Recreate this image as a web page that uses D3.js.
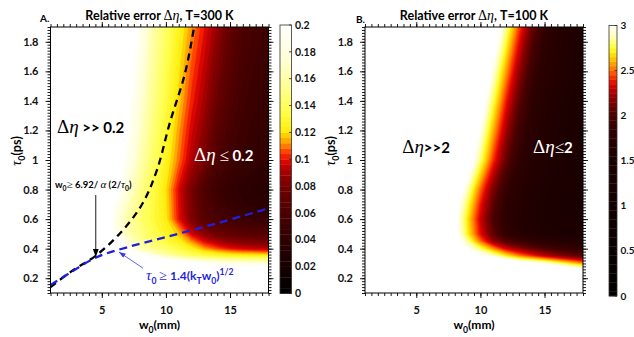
<!DOCTYPE html>
<html><head><meta charset="utf-8">
<script src="https://cdn.jsdelivr.net/npm/d3@7/dist/d3.min.js"></script>
<style>
html,body{margin:0;padding:0;background:#fff;}
svg text{font-family:Lato,"Open Sans","Liberation Sans",sans-serif;font-weight:700;white-space:pre;}
svg text .sf{font-family:"Liberation Serif","DejaVu Serif",serif;font-weight:400;}
svg text .it{font-style:italic;}
</style></head>
<body>
<svg id="chart" width="634" height="337"></svg>
<script>
// ---------- data ----------
const w0Cols = [1,2,3,4,5,6,7,8,9,10,11,12,13,14,15,16,17,18];
const tauRows = [0.1,0.2,0.25,0.3,0.35,0.4,0.45,0.5,0.6,0.7,0.8,1.0,1.2,1.4,1.6,1.9];
// relative error, T=300 K (rows follow tauRows, columns follow w0Cols)
const errA = [
 [.3,.3,.3,.3,.3,.3,.3,.3,.3,.3,.3,.3,.3,.3,.3,.3,.3,.3],
 [.3,.3,.3,.3,.3,.3,.3,.3,.3,.3,.3,.3,.3,.3,.3,.3,.3,.3],
 [.3,.3,.3,.3,.3,.3,.3,.3,.3,.3,.3,.28,.26,.245,.235,.228,.224,.22],
 [.3,.3,.3,.3,.3,.3,.3,.3,.27,.24,.22,.205,.195,.188,.184,.181,.179,.178],
 [.3,.3,.3,.3,.3,.3,.26,.21,.185,.165,.152,.143,.136,.131,.128,.126,.125,.124],
 [.3,.3,.3,.3,.3,.26,.19,.165,.152,.143,.134,.124,.113,.106,.1,.097,.095,.093],
 [.3,.3,.3,.3,.28,.23,.176,.156,.143,.133,.124,.111,.098,.09,.085,.082,.08,.078],
 [.3,.3,.3,.3,.26,.19,.165,.15,.138,.127,.117,.097,.085,.076,.071,.068,.066,.065],
 [.3,.3,.3,.28,.24,.185,.16,.145,.133,.122,.1,.082,.066,.058,.053,.049,.047,.045],
 [.3,.3,.3,.28,.245,.195,.168,.148,.134,.121,.099,.081,.063,.053,.046,.041,.038,.036],
 [.3,.3,.3,.3,.25,.215,.176,.152,.135,.12,.098,.08,.06,.05,.043,.038,.035,.033],
 [.3,.3,.3,.3,.26,.22,.19,.163,.142,.126,.109,.092,.08,.06,.052,.046,.042,.04],
 [.3,.3,.3,.3,.27,.23,.198,.17,.147,.13,.113,.097,.085,.068,.057,.05,.045,.042],
 [.3,.3,.3,.3,.28,.24,.205,.176,.151,.134,.118,.102,.09,.075,.062,.053,.049,.045],
 [.3,.3,.3,.3,.3,.25,.21,.182,.155,.137,.121,.106,.094,.08,.066,.056,.051,.047],
 [.3,.3,.3,.3,.3,.26,.22,.19,.16,.142,.126,.112,.1,.087,.072,.06,.055,.05]
];
// relative error, T=100 K
const errB = [
 [3.5,3.5,3.5,3.5,3.5,3.5,3.5,3.5,3.5,3.5,3.5,3.5,3.5,3.5,3.5,3.5,3.5,3.5],
 [3.5,3.5,3.5,3.5,3.5,3.5,3.5,3.5,3.5,3.5,3.5,3.5,3.5,3.5,3.5,3.5,3.5,3.5],
 [3.5,3.5,3.5,3.5,3.5,3.5,3.5,3.5,3.5,3.5,3.5,3.5,3.5,3.5,3.5,3.35,3.25,3.15],
 [3.5,3.5,3.5,3.5,3.5,3.5,3.5,3.5,3.5,3.5,3.5,3.3,3.15,3.05,2.95,2.82,2.68,2.55],
 [3.5,3.5,3.5,3.5,3.5,3.5,3.5,3.5,3.5,3.05,2.92,2.72,2.55,2.42,2.3,2.2,2.12,2.06],
 [3.5,3.5,3.5,3.5,3.5,3.5,3.5,3.3,3.0,2.8,2.55,2.33,2.2,2.08,2.0,1.94,1.88,1.84],
 [3.5,3.5,3.5,3.5,3.5,3.5,3.5,3.15,2.85,2.5,2.2,2.02,1.92,1.85,1.78,1.72,1.68,1.65],
 [3.5,3.5,3.5,3.5,3.5,3.5,3.4,3.08,2.72,2.36,2.06,1.85,1.72,1.63,1.56,1.52,1.49,1.47],
 [3.5,3.5,3.5,3.5,3.5,3.5,3.38,3.06,2.69,2.31,2.0,1.79,1.66,1.57,1.49,1.44,1.4,1.38],
 [3.5,3.5,3.5,3.5,3.5,3.5,3.44,3.13,2.77,2.38,2.05,1.82,1.68,1.58,1.5,1.45,1.41,1.38],
 [3.5,3.5,3.5,3.5,3.5,3.5,3.5,3.23,2.885,2.49,2.135,1.875,1.715,1.61,1.52,1.46,1.42,1.4],
 [3.5,3.5,3.5,3.5,3.5,3.5,3.5,3.47,3.16,2.81,2.42,2.08,1.84,1.69,1.6,1.52,1.46,1.42],
 [3.5,3.5,3.5,3.5,3.5,3.5,3.5,3.5,3.31,2.98,2.6,2.23,1.94,1.76,1.64,1.56,1.48,1.44],
 [3.5,3.5,3.5,3.5,3.5,3.5,3.5,3.5,3.45,3.14,2.78,2.39,2.06,1.82,1.68,1.58,1.5,1.46],
 [3.5,3.5,3.5,3.5,3.5,3.5,3.5,3.5,3.5,3.29,2.955,2.57,2.205,1.925,1.745,1.67,1.57,1.49],
 [3.5,3.5,3.5,3.5,3.5,3.5,3.5,3.5,3.5,3.5,3.2,2.85,2.45,2.1,1.85,1.7,1.6,1.5]
];
// boundary curves (panel A)
const limitBlackW   = [1.0, 2.6, 4.6, 6.65, 8.2, 9.3, 10.3, 11.5, 12.2];
const limitBlackTau = [0.14, 0.245, 0.357, 0.526, 0.709, 0.932, 1.25, 1.59, 1.9];
const limitBlueW    = [1.0, 2.5, 4.6, 7.0, 10.1, 14.0, 18.0];
const limitBlueTau  = [0.154, 0.235, 0.342, 0.41, 0.481, 0.572, 0.673];
// ticks
const xTicks = [5, 10, 15];
const yTicks = [0.2, 0.4, 0.6, 0.8, 1.0, 1.2, 1.4, 1.6, 1.8];
const cbTicksA = [0, 0.02, 0.04, 0.06, 0.08, 0.1, 0.12, 0.14, 0.16, 0.18, 0.2];
const cbTicksB = [0, 0.5, 1, 1.5, 2, 2.5, 3];

// ---------- styles ----------
const cmapA = d3.scaleLinear()
  .domain([0, 0.025, 0.045, 0.06, 0.075, 0.087, 0.097, 0.104, 0.11, 0.116, 0.122, 0.137, 0.155, 0.175, 0.2])
  .range(["#000000","#1c0000","#360000","#4c0000","#680000","#900000","#d00000","#ff2a00","#ff7a00","#ffc000","#ffee10","#ffff50","#ffff98","#ffffd8","#ffffff"])
  .clamp(true);
const cmapB = d3.scaleLinear()
  .domain([0, 0.5, 1.0, 1.5, 1.8, 2.0, 2.2, 2.35, 2.45, 2.55, 2.65, 2.75, 2.87, 3])
  .range(["#000000","#0a0000","#120000","#1c0000","#2c0000","#480000","#900000","#e00000","#ff4000","#ff9000","#ffd000","#ffff30","#ffffb0","#ffffff"])
  .clamp(true);

const svg = d3.select("#chart");
const defs = svg.append("defs");
const Y0 = 293, Y1 = 27;

function rich(g, x, y, parts, o) {
  const size = o.size;
  const t = g.append("text").attr("x", x).attr("y", y).attr("font-size", size).attr("fill", o.fill || "#000");
  if (o.anchor) t.attr("text-anchor", o.anchor);
  if (o.rotate) t.attr("transform", `rotate(-90,${x},${y})`);
  let shift = 0;
  parts.forEach(p => {
    const want = p.sub ? size * 0.3 : (p.sup ? -size * 0.42 : 0);
    const s = t.append("tspan").text(p.t);
    if (want !== shift) { s.attr("dy", want - shift); shift = want; }
    if (p.sub || p.sup) s.attr("font-size", size * 0.72);
    else if (p.size) s.attr("font-size", p.size);
    const cls = [];
    if (p.serif) cls.push("sf");
    if (p.it) cls.push("it");
    if (cls.length) s.attr("class", cls.join(" "));
  });
  return t;
}

function panel(o) {
  const x = d3.scaleLinear().domain([1, 18]).range(o.xr);
  const y = d3.scaleLinear().domain([0.1, 1.9]).range([Y0, Y1]);
  const clipId = "clip" + o.id;
  defs.append("clipPath").attr("id", clipId).append("rect")
    .attr("x", o.xr[0]).attr("y", Y1).attr("width", o.xr[1] - o.xr[0]).attr("height", Y0 - Y1);
  const g = svg.append("g");

  // heat map via filled contours
  const n = w0Cols.length, m = tauRows.length;
  const thr = d3.range(0, o.max, o.step); thr.push(o.max);
  const fill = t => t >= o.max - 1e-9 ? "#ffffff" : o.cmap(t + o.step / 2);
  const cont = d3.contours().size([n, m]).thresholds(thr)(o.values.flat());
  const wIdx = d3.scaleLinear().domain(w0Cols.map((d, i) => i + 0.5)).range(w0Cols);
  const tIdx = d3.scaleLinear().domain(tauRows.map((d, i) => i + 0.5)).range(tauRows);
  const proj = d3.geoTransform({ point(px, py) { this.stream.point(x(wIdx(px)), y(tIdx(py))); } });
  const path = d3.geoPath(proj);
  g.append("g").attr("clip-path", `url(#${clipId})`)
    .selectAll("path").data(cont).join("path")
    .attr("d", path).attr("fill", d => fill(d.value))
    .attr("stroke", d => fill(d.value)).attr("stroke-width", 0.4);

  // colorbar
  const cy = d3.scaleLinear().domain([0, o.max]).range([o.cb.y0, o.cb.y1]);
  const cbg = svg.append("g");
  cbg.selectAll("rect.band").data(thr.slice(0, -1)).join("rect").attr("class", "band")
    .attr("x", o.cb.x).attr("width", o.cb.w)
    .attr("y", d => cy(Math.min(d + o.step, o.max)))
    .attr("height", d => cy(d) - cy(Math.min(d + o.step, o.max)) + 0.3)
    .attr("fill", d => fill(d));
  cbg.append("rect").attr("x", o.cb.x).attr("y", o.cb.y1).attr("width", o.cb.w).attr("height", o.cb.y0 - o.cb.y1)
    .attr("fill", "none").attr("stroke", "#333").attr("stroke-width", 0.8);
  cbg.selectAll("line.cbt").data(o.cbTicks).join("line").attr("class", "cbt")
    .attr("x1", o.cb.x + o.cb.w - 2.5).attr("x2", o.cb.x + o.cb.w)
    .attr("y1", d => cy(d)).attr("y2", d => cy(d)).attr("stroke", "#222").attr("stroke-width", 0.8);
  cbg.selectAll("text").data(o.cbTicks).join("text")
    .attr("x", o.cb.x + o.cb.w + 3.5).attr("y", d => cy(d)).attr("dy", "0.35em")
    .attr("font-size", o.cbFont).attr("fill", "#111")
    .text(d => String(+d.toFixed(2)));

  return { g, x, y, clipId };
}

function axes(p, xr) {
  const { g, x, y } = p;
  const xMinor = d3.range(1, 18.001, 0.5);
  const yMinor = d3.range(0.1, 1.9001, 0.02);
  const add = (gen, tr, vals, size, labels, fmt, pad) => {
    const a = g.append("g").attr("transform", tr)
      .call(gen.tickValues(vals).tickSize(size).tickPadding(pad || 3).tickFormat(labels ? fmt : () => ""));
    a.select(".domain").remove();
    a.selectAll("line").attr("stroke", "#000").attr("stroke-width", 0.9);
    a.attr("font-size", 11).attr("fill", "#111");
    if (labels) a.selectAll("text").attr("fill", "#111");
    else a.selectAll("text").remove();
    return a;
  };
  const fx = d => String(d);
  const fy = d => String(+d.toFixed(1));
  add(d3.axisBottom(x), `translate(0,${Y0})`, xMinor, 3, false);
  add(d3.axisBottom(x), `translate(0,${Y0})`, xTicks, 5, true, fx, 8.5);
  add(d3.axisTop(x), `translate(0,${Y1})`, xMinor, 3, false);
  add(d3.axisTop(x), `translate(0,${Y1})`, xTicks, 5, false);
  add(d3.axisLeft(y), `translate(${xr[0]},0)`, yMinor, 3, false);
  add(d3.axisLeft(y), `translate(${xr[0]},0)`, yTicks, 5, true, fy, 7);
  add(d3.axisRight(y), `translate(${xr[1]},0)`, yMinor, 3, false);
  add(d3.axisRight(y), `translate(${xr[1]},0)`, yTicks, 5, false);
  g.append("rect").attr("x", xr[0]).attr("y", Y1).attr("width", xr[1] - xr[0]).attr("height", Y0 - Y1)
    .attr("fill", "none").attr("stroke", "#000").attr("stroke-width", 1);
}

function labels(p, xr, letter, lx, ly, title, ylx) {
  const g = p.g;
  const cx = (xr[0] + xr[1]) / 2;
  g.append("text").attr("x", lx).attr("y", ly).attr("font-size", 10).text(letter);
  rich(g, cx, 20, [
    { t: "Relative error " }, { t: "Δ", serif: true, size: 14 }, { t: "η", serif: true, it: true, size: 14 }, { t: ", " + title }
  ], { size: 12.5, anchor: "middle" });
  rich(g, cx, 329, [{ t: "w" }, { t: "0", sub: true }, { t: "(mm)" }], { size: 12, anchor: "middle" });
  rich(g, ylx, 151, [{ t: "τ", serif: true, it: true, size: 14 }, { t: "0", sub: true }, { t: "(ps)" }], { size: 12.5, anchor: "middle", rotate: true });
}

// ---------- panel A ----------
const xrA = [50.5, 268.5];
const pA = panel({ id: "A", xr: xrA, values: errA, max: 0.2, step: 0.004, cmap: cmapA,
  cb: { x: 280, w: 11.5, y0: 293.5, y1: 25 }, cbTicks: cbTicksA, cbFont: 10.5 });

// dashed limit curves
const lineA = d3.line().x(d => pA.x(d[0])).y(d => pA.y(d[1])).curve(d3.curveCatmullRom);
const dl = pA.g.append("g").attr("clip-path", `url(#${pA.clipId})`);
dl.append("path").attr("d", lineA(d3.zip(limitBlackW, limitBlackTau)))
  .attr("fill", "none").attr("stroke", "#000").attr("stroke-width", 2.3).attr("stroke-dasharray", "7,5");
dl.append("path").attr("d", lineA(d3.zip(limitBlueW, limitBlueTau)))
  .attr("fill", "none").attr("stroke", "#1f1fe0").attr("stroke-width", 2.3).attr("stroke-dasharray", "8,5");

// arrows
defs.append("marker").attr("id", "ahK").attr("viewBox", "0 0 8 6").attr("refX", 8).attr("refY", 3)
  .attr("markerWidth", 8).attr("markerHeight", 6).attr("markerUnits", "userSpaceOnUse").attr("orient", "auto")
  .append("path").attr("d", "M0,0L8,3L0,6z").attr("fill", "#000");
defs.append("marker").attr("id", "ahB").attr("viewBox", "0 0 8 6").attr("refX", 8).attr("refY", 3)
  .attr("markerWidth", 7).attr("markerHeight", 5).attr("markerUnits", "userSpaceOnUse").attr("orient", "auto")
  .append("path").attr("d", "M0,0L8,3L0,6z").attr("fill", "#3a3ae6");
pA.g.append("line").attr("x1", pA.x(4.53)).attr("y1", pA.y(0.763)).attr("x2", pA.x(4.53)).attr("y2", pA.y(0.344))
  .attr("stroke", "#000").attr("stroke-width", 0.9).attr("marker-end", "url(#ahK)");
pA.g.append("line").attr("x1", pA.x(8.2)).attr("y1", pA.y(0.269)).attr("x2", pA.x(6.34)).attr("y2", pA.y(0.377))
  .attr("stroke", "#3a3ae6").attr("stroke-width", 0.8).attr("marker-end", "url(#ahB)");

// annotations A
rich(pA.g, pA.x(1.5), 133, [{ t: "Δ", serif: true }, { t: "η", serif: true, it: true }, { t: " >> 0.2", size: 15 }], { size: 19 });
rich(pA.g, pA.x(12.2), 161, [{ t: "Δ", serif: true }, { t: "η", serif: true, it: true }, { t: " " , size: 15}, { t: "≤", serif: true, size: 17 }, { t: " 0.2", size: 15 }], { size: 19, fill: "#fff" });
rich(pA.g, pA.x(1.35), 188, [{ t: "w" }, { t: "0", sub: true }, { t: "≥", serif: true, size: 11 }, { t: " 6.92/ " }, { t: "α", serif: true, it: true, size: 11 }, { t: " (2/" }, { t: "τ", serif: true, it: true, size: 11 }, { t: "0", sub: true }, { t: ")" }], { size: 9.5 });
rich(pA.g, pA.x(8.45), 280, [{ t: "τ", serif: true, it: true, size: 15 }, { t: "0", sub: true }, { t: " " }, { t: "≥", serif: true, size: 14 }, { t: " 1.4(k" }, { t: "T", sub: true }, { t: "w" }, { t: "0", sub: true }, { t: ")" }, { t: "1/2", sup: true }], { size: 12, fill: "#1f1fe0" });

axes(pA, xrA);
labels(pA, xrA, "A.", 40, 22, "T=300 K", 21);

// ---------- panel B ----------
const xrB = [365, 583];
const pB = panel({ id: "B", xr: xrB, values: errB, max: 3, step: 0.05, cmap: cmapB,
  cb: { x: 609, w: 8, y0: 296, y1: 25.5 }, cbTicks: cbTicksB, cbFont: 10 });
rich(pB.g, pB.x(3.9), 153, [{ t: "Δ", serif: true }, { t: "η", serif: true, it: true }, { t: ">>2", size: 15 }], { size: 19 });
rich(pB.g, pB.x(14.1), 153, [{ t: "Δ", serif: true }, { t: "η", serif: true, it: true }, { t: "≤", serif: true, size: 17 }, { t: "2", size: 15 }], { size: 19, fill: "#fff" });
axes(pB, xrB);
labels(pB, xrB, "B.", 356, 23, "T=100 K", 335);
</script>
</body></html>
